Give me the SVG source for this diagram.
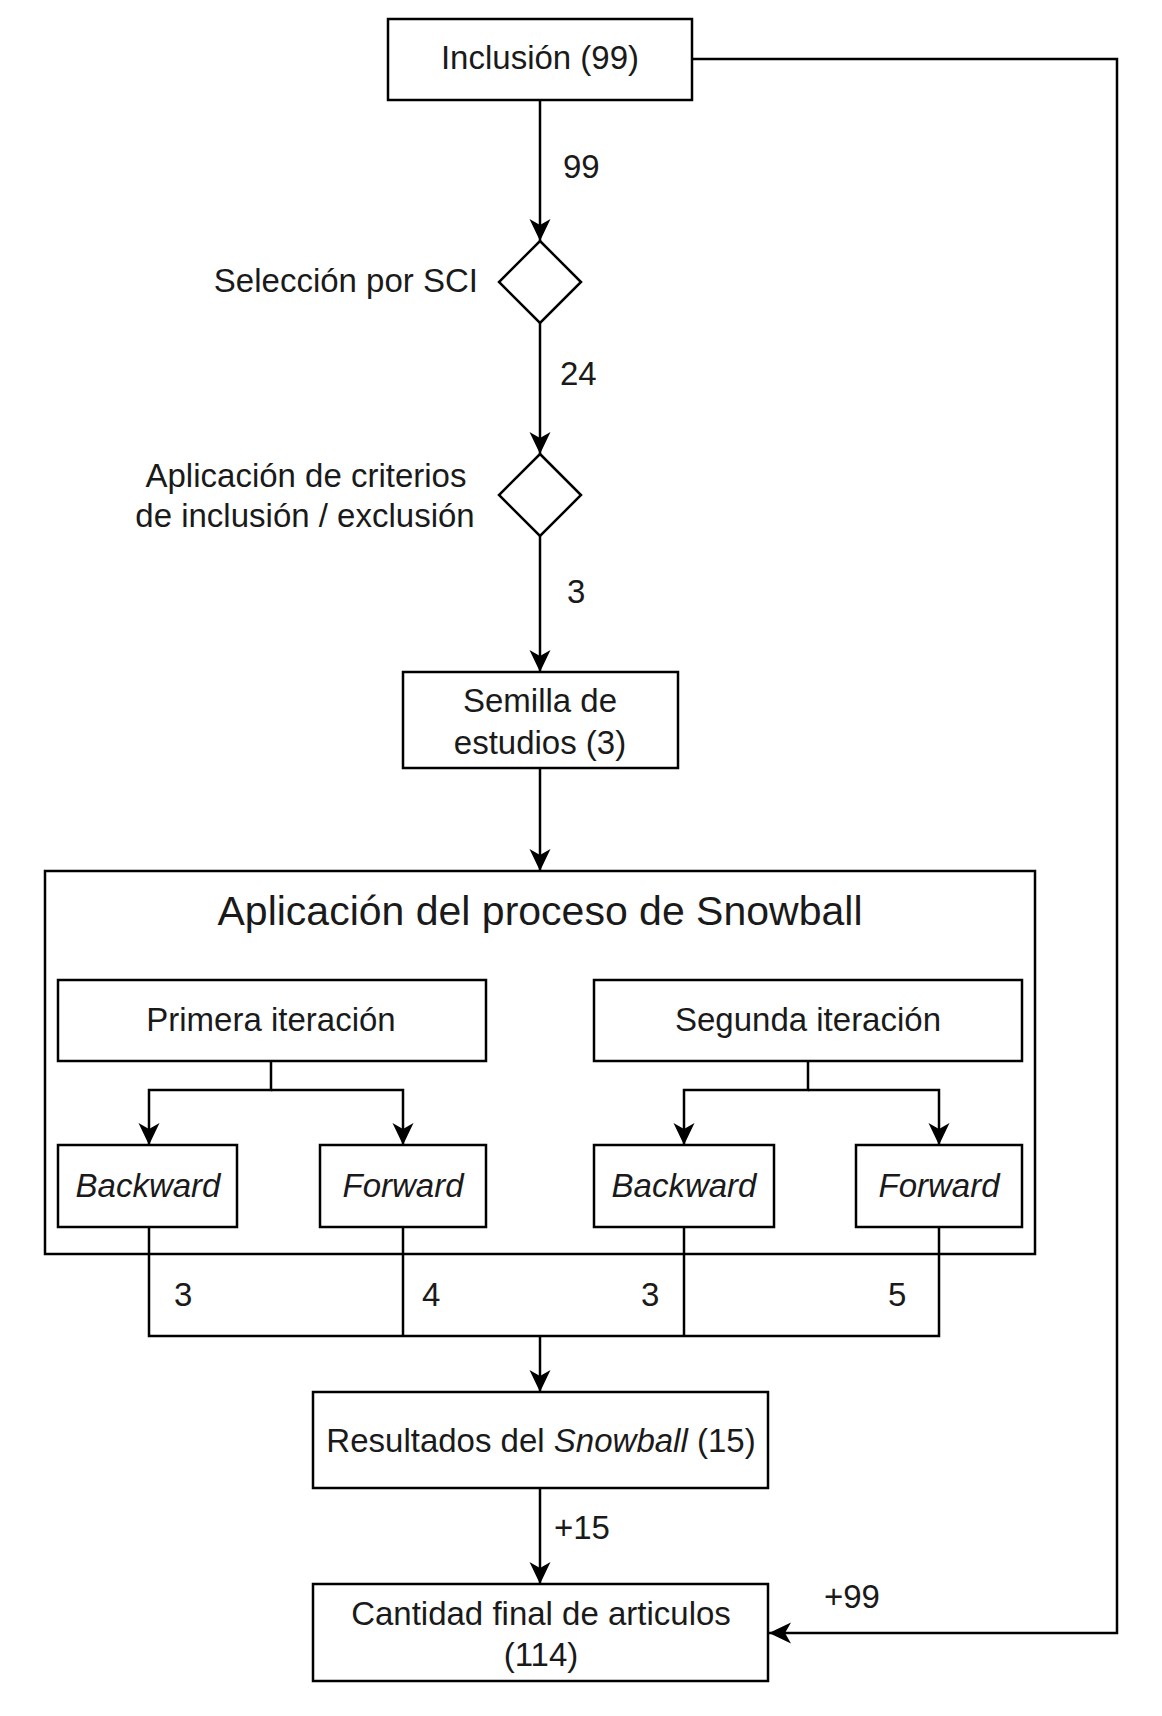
<svg xmlns="http://www.w3.org/2000/svg" width="1162" height="1716" viewBox="0 0 1162 1716">
<defs>
<marker id="arr" markerUnits="userSpaceOnUse" markerWidth="24" markerHeight="24" viewBox="0 0 24 24" refX="22" refY="12" orient="auto">
<path d="M0,1.5 L22,12 L0,22.5 L6,12 Z" fill="#000"/>
</marker>
<style>
.box{fill:#fff;stroke:#000;stroke-width:2.5}
.ln{fill:none;stroke:#000;stroke-width:2.5}
.t{font-family:"Liberation Sans",Arial,sans-serif;font-size:33px;fill:#1a1a1a;dominant-baseline:central}
.c{text-anchor:middle}
.e{text-anchor:end}
.i{font-style:italic}
</style>
</defs>
<rect width="1162" height="1716" fill="#fff"/>

<g id="connectors">
<path class="ln" d="M540,100 V241" marker-end="url(#arr)"/>
<path class="ln" d="M540,323 V454" marker-end="url(#arr)"/>
<path class="ln" d="M540,536 V672" marker-end="url(#arr)"/>
<path class="ln" d="M540,768 V871" marker-end="url(#arr)"/>
<path class="ln" d="M271,1061 V1090 H149 V1145" marker-end="url(#arr)"/>
<path class="ln" d="M271,1090 H403 V1145" marker-end="url(#arr)"/>
<path class="ln" d="M808,1061 V1090 H684 V1145" marker-end="url(#arr)"/>
<path class="ln" d="M808,1090 H939 V1145" marker-end="url(#arr)"/>
<path class="ln" d="M149,1227 V1336 H939 V1227"/>
<path class="ln" d="M403,1227 V1336"/>
<path class="ln" d="M684,1227 V1336"/>
<path class="ln" d="M540,1336 V1392" marker-end="url(#arr)"/>
<path class="ln" d="M540,1488 V1584" marker-end="url(#arr)"/>
<path class="ln" d="M692,59 H1117 V1633 H769" marker-end="url(#arr)"/>
<text class="t" x="563" y="166">99</text>
<text class="t" x="560" y="373">24</text>
<text class="t" x="567" y="591">3</text>
<text class="t" x="174" y="1294">3</text>
<text class="t" x="422" y="1294">4</text>
<text class="t" x="641" y="1294">3</text>
<text class="t" x="888" y="1294">5</text>
<text class="t" x="554" y="1527">+15</text>
<text class="t" x="824" y="1596">+99</text>
</g>

<g id="inclusion">
<rect class="box" x="388" y="19" width="304" height="81"/>
<text class="t c" x="540" y="57">Inclusión (99)</text>
</g>

<g id="seleccion-sci">
<path class="box" d="M540,241 L581,282 L540,323 L499,282 Z"/>
<text class="t e" x="478" y="280">Selección por SCI</text>
</g>

<g id="criterios">
<path class="box" d="M540,454 L581,495 L540,536 L499,495 Z"/>
<text class="t c" x="306" y="475">Aplicación de criterios</text>
<text class="t c" x="305" y="515">de inclusión / exclusión</text>
</g>

<g id="semilla">
<rect class="box" x="403" y="672" width="275" height="96"/>
<text class="t c" x="540" y="700">Semilla de</text>
<text class="t c" x="540" y="742">estudios (3)</text>
</g>

<g id="snowball">
<rect class="box" x="45" y="871" width="990" height="383" style="fill:none"/>
<text class="t c" x="540" y="911" style="font-size:41px">Aplicación del proceso de Snowball</text>
</g>

<g id="primera">
<rect class="box" x="58" y="980" width="428" height="81"/>
<text class="t c" x="271" y="1019">Primera iteración</text>
</g>

<g id="segunda">
<rect class="box" x="594" y="980" width="428" height="81"/>
<text class="t c" x="808" y="1019">Segunda iteración</text>
</g>

<g id="backward1">
<rect class="box" x="58" y="1145" width="179" height="82"/>
<text class="t c i" x="148" y="1185">Backward</text>
</g>

<g id="forward1">
<rect class="box" x="320" y="1145" width="166" height="82"/>
<text class="t c i" x="403" y="1185">Forward</text>
</g>

<g id="backward2">
<rect class="box" x="594" y="1145" width="180" height="82"/>
<text class="t c i" x="684" y="1185">Backward</text>
</g>

<g id="forward2">
<rect class="box" x="856" y="1145" width="166" height="82"/>
<text class="t c i" x="939" y="1185">Forward</text>
</g>

<g id="resultados">
<rect class="box" x="313" y="1392" width="455" height="96"/>
<text class="t c" x="541" y="1440">Resultados del <tspan class="i">Snowball</tspan> (15)</text>
</g>

<g id="cantidad">
<rect class="box" x="313" y="1584" width="455" height="97"/>
<text class="t c" x="541" y="1613">Cantidad final de articulos</text>
<text class="t c" x="541" y="1654">(114)</text>
</g>
</svg>
